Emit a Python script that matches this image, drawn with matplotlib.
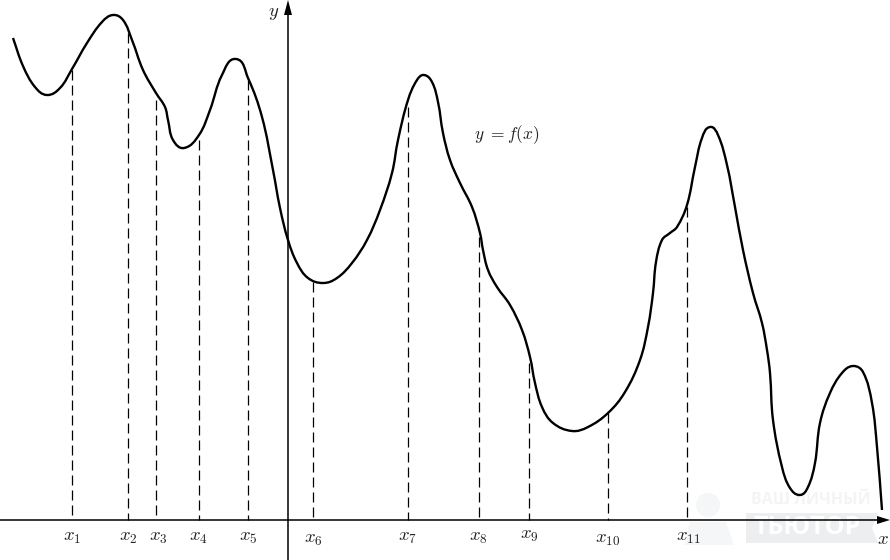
import math
import matplotlib
matplotlib.use("Agg")
import matplotlib.pyplot as plt
from matplotlib.patches import Polygon, Circle, PathPatch
from matplotlib.path import Path

plt.rcParams['mathtext.fontset'] = 'cm'

# Values; the origin is where the two axes cross (units: pixels)
curve_px = [13,23,35,47,60,72,87,102,113,123,132,143,156,165,168,173,184,199,210,222,236,248,262,273,280,288,297,308,323,337,352,367,380,392,398,408,417,424,432,438,443,450,460,472,480,483,488,497,510,522,530,535,542,553,572,588,608,625,640,648,653,656,662,670,677,687,695,702,710,718,727,735,743,753,762,767,770,773,782,790,800,808,815,820,830,842,853,863,872,877,882]
curve_py = [38,66,87,95,88,69,43,22,15,20,40,70,93,107,120,140,148,135,110,75,59,78,117,170,208,240,263,278,283,278,263,240,210,173,140,100,80,75,82,102,133,160,183,207,233,250,270,287,305,330,357,383,407,423,431,427,413,392,360,327,293,262,240,233,227,205,167,138,127,135,165,207,250,293,323,350,373,420,467,488,495,487,463,423,393,373,366,372,403,447,510]
mark_px = [72,128,156,199,248,313,408,479,529,608,687]
mark_py = [70,33,100,140,80,282,107,237,363,413,207]
mark_labels = [r'$x_{1}$',r'$x_{2}$',r'$x_{3}$',r'$x_{4}$',r'$x_{5}$',r'$x_{6}$',r'$x_{7}$',r'$x_{8}$',r'$x_{9}$',r'$x_{10}$',r'$x_{11}$']
label_px = [72,128,158,198,248,313,408,478,529,608,688]
label_py = [536,537,537,537,537,538,537,537,535,538,537]
origin_px, origin_py = 288, 520

curve_x = [p - origin_px for p in curve_px]
curve_y = [origin_py - p for p in curve_py]


def smooth_path(xs, ys):
    """Smooth cubic path through the read points: tangent along the neighbours' chord."""
    pts = list(zip(xs, ys))
    n = len(pts)
    chords = [math.dist(pts[i], pts[i + 1]) for i in range(n - 1)]
    tangents = []
    for i in range(n):
        a = pts[max(i - 1, 0)]
        b = pts[min(i + 1, n - 1)]
        norm = math.dist(a, b)
        tangents.append(((b[0] - a[0]) / norm, (b[1] - a[1]) / norm))
    verts = [pts[0]]
    codes = [Path.MOVETO]
    for i in range(n - 1):
        h = chords[i] * 0.38
        verts.append((pts[i][0] + tangents[i][0] * h, pts[i][1] + tangents[i][1] * h))
        verts.append((pts[i + 1][0] - tangents[i + 1][0] * h, pts[i + 1][1] - tangents[i + 1][1] * h))
        verts.append(pts[i + 1])
        codes += [Path.CURVE4] * 3
    return Path(verts, codes)


fig = plt.figure(figsize=(8.9, 5.6), dpi=100)
ax = fig.add_axes([0, 0, 1, 1])
ax.set_xlim(-origin_px, 890 - origin_px)
ax.set_ylim(origin_py - 560, origin_py)
ax.axis('off')


def P(x, y):
    return (x - origin_px, origin_py - y)


# watermark
wm = '#f5f6f7'
ax.add_patch(Polygon([P(746, 513), P(878, 513), P(872, 528), P(878, 543), P(746, 543)], fc='#eceef0', ec='none', zorder=0))
ax.text(*P(807, 527), 'ТЬЮТОР', color='white', fontsize=18, fontweight='bold', ha='center', va='center', family='Open Sans', zorder=1)
ax.text(*P(811, 500), 'ВАШ ЛИЧНЫЙ', color='#f3f4f5', fontsize=11.5, fontweight='bold', ha='center', va='center', family='Open Sans', zorder=1)
ax.add_patch(Circle(P(708, 505), 12, fc=wm, ec='none', zorder=0))
ax.add_patch(Polygon([P(684, 545), P(690, 522), P(726, 522), P(734, 545)], fc=wm, ec='none', zorder=0))

# axes with arrows
ax.plot([-origin_px, 878 - origin_px], [0, 0], color='black', lw=1.1, zorder=3)
ax.plot([0, 0], [-40, 505], color='black', lw=1.1, zorder=3)
ax.add_patch(Polygon([P(890, 520), P(877, 516), P(877, 524)], fc='black', ec='none', zorder=3))
ax.add_patch(Polygon([P(288, 0), P(284, 15), P(292, 15)], fc='black', ec='none', zorder=3))

# drop lines
for mx, my in zip(mark_px, mark_py):
    ax.plot([mx - origin_px] * 2, [origin_py - my, 0], color='black', lw=0.9, dashes=(8, 4), zorder=2)

# curve
ax.add_patch(PathPatch(smooth_path(curve_x, curve_y), fc='none', ec='black', lw=1.7, capstyle='butt', joinstyle='round', zorder=4))

# labels
for lx, ly, s in zip(label_px, label_py, mark_labels):
    ax.text(*P(lx, ly), s, fontsize=13.5, ha='center', va='center', color='#222222')
ax.text(*P(274, 12), r'$y$', fontsize=13.5, ha='center', va='center', color='#222222')
ax.text(*P(883, 538), r'$x$', fontsize=13.5, ha='center', va='center', color='#222222')
ax.text(*P(507, 135), r'$y\ =f(x)$', fontsize=12.5, ha='center', va='center', color='#222222')

fig.savefig('out.png', dpi=100)
